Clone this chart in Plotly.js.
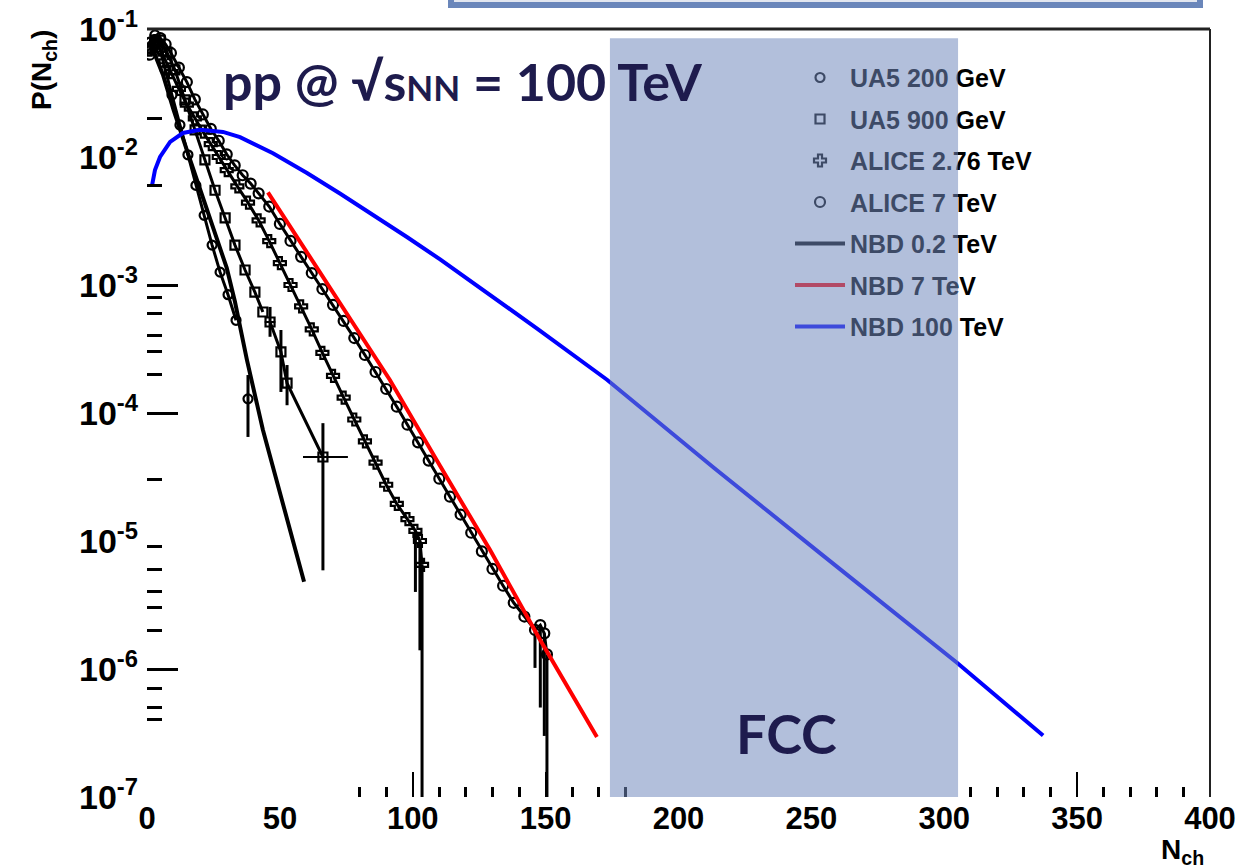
<!DOCTYPE html>
<html><head><meta charset="utf-8">
<script src="https://cdn.plot.ly/plotly-3.0.1.min.js"></script>
<style>html,body{margin:0;padding:0;background:#fff}#chart{width:1255px;height:868px}</style>
</head><body><div id="chart"></div>
<script>
// ---- data (null = break between the dense band and the isolated points) ----
const ua5_200_n = [1.1, 3.0, 4.9, 6.8, 9.4, 12.4, 15.4, 18.4, 21.5, 24.5, 27.5, 30.5, 33.5, null, 38.0];
const ua5_200_p = [0.079, 0.090, 0.069, 0.048, 0.0305, 0.0178, 0.0104, 6.0e-3, 3.5e-3, 2.05e-3, 1.26e-3, 8.4e-4, 5.3e-4, null, 1.29e-4];
const ua5_200_eup = [0,0,0,0,0,0,0,0,0,0,0,0,0,0, 6.9e-5];
const ua5_200_edn = [0,0,0,0,0,0,0,0,0,0,0,0,0,0, 6.4e-5];

const ua5_900_n = [1.1, 3.0, 4.9, 7.5, 10.5, 14.3, 18.1, 21.8, 25.6, 29.4, 33.1, 36.9, 40.6, 43.6, null, 46.3, 50.4, 52.7, 66.2];
const ua5_900_p = [0.071, 0.082, 0.082, 0.066, 0.048, 0.0279, 0.0163, 9.5e-3, 5.5e-3, 3.34e-3, 2.05e-3, 1.31e-3, 8.8e-4, 6.15e-4, null, 5.14e-4, 3.0e-4, 1.71e-4, 4.53e-5];
const ua5_900_eup = [0,0,0,0,0,0,0,0,0,0,0,0,0,0,0, 1.6e-4, 1.45e-4, 6.6e-5, 3.8e-5];
const ua5_900_edn = [0,0,0,0,0,0,0,0,0,0,0,0,0,0,0, 1.2e-4, 1.54e-4, 5.6e-5, 3.94e-5];
const ua5_900_exp = [0,0,0,0,0,0,0,0,0,0,0,0,0,0,0, 2.0, 0, 0, 9.4];
const ua5_900_exm = [0,0,0,0,0,0,0,0,0,0,0,0,0,0,0, 2.0, 0, 0, 7.5];

const alice276_n = [1, 3, 5, 7, 9, 12, 15, 18, 21, 24, 27, 30, 34, 38, 42, 46, 50, 54, 58, 62, 66, 70, 74, 78, 82, 86, 90, 94, 98, 101, 102.7, 103.5];
const alice276_p = [0.069, 0.076, 0.069, 0.056, 0.046, 0.034, 0.0257, 0.020, 0.0158, 0.0126, 0.010, 7.9e-3, 5.9e-3, 4.4e-3, 3.2e-3, 2.2e-3, 1.48e-3, 1.0e-3, 6.8e-4, 4.5e-4, 2.95e-4, 1.95e-4, 1.32e-4, 8.9e-5, 6.0e-5, 4.1e-5, 2.75e-5, 1.95e-5, 1.48e-5, 1.2e-5, 1.0e-5, 6.5e-6];
const alice276_edn = [0,0,0,0,0,0,0,0,0,0,0,0,0,0,0,0,0,0,0,0,0,0,0,0,0,0,0,0,0, 8.0e-6, 8.6e-6, 6.49e-6];

const alice7_n = [1, 3, 5, 7, 9, 12, 15, 18, 21, 24, 27, 30, 33, 36, 39, 42, 46, 50, 54, 58, 62, 66, 70, 74, 78, 82, 86, 90, 94, 98, 102, 106, 110, 114, 118, 122, 126, 130, 134, 138, 142, 146, 148, 149.5, 150.5];
const alice7_p = [0.063, 0.082, 0.085, 0.076, 0.065, 0.050, 0.0385, 0.0282, 0.0215, 0.0166, 0.0134, 0.0105, 8.6e-3, 7.2e-3, 6.2e-3, 5.2e-3, 4.1e-3, 3.0e-3, 2.21e-3, 1.66e-3, 1.24e-3, 9.3e-4, 7.0e-4, 5.24e-4, 3.85e-4, 2.84e-4, 2.09e-4, 1.54e-4, 1.12e-4, 8.1e-5, 5.9e-5, 4.25e-5, 3.07e-5, 2.22e-5, 1.61e-5, 1.16e-5, 8.3e-6, 6.05e-6, 4.47e-6, 3.29e-6, 2.57e-6, 2.02e-6, 2.2e-6, 1.9e-6, 1.3e-6];
const alice7_edn = [0,0,0,0,0,0,0,0,0,0,0,0,0,0,0,0,0,0,0,0,0,0,0,0,0,0,0,0,0,0,0,0,0,0,0,0,0,0,0,0,0, 1.0e-6, 1.7e-6, 1.6e-6, 1.29e-6];

const nbd02_n = [1, 3, 6, 10, 15, 20, 25, 30, 33.1, 37.6, 43.6, 50.0, 57.6, 59.1];
const nbd02_p = [0.066, 0.063, 0.044, 0.0233, 0.0113, 5.5e-3, 2.79e-3, 1.36e-3, 7.4e-4, 2.6e-4, 7.4e-5, 2.42e-5, 6.5e-6, 4.8e-6];

const nbd7_n = [45.5, 72.6, 91.4, 110.3, 129.1, 147.9, 169.3];
const nbd7_p = [5.3e-3, 7.2e-4, 1.81e-4, 3.85e-5, 8.5e-6, 1.69e-6, 2.94e-7];

const nbd100_n = [1.9, 3.0, 4.9, 8.7, 13.5, 19.9, 28.6, 35.0, 47.4, 60.2, 72.6, 85.0, 97.8, 110.3, 122.7, 135.5, 146.8, 173.1, 213.4, 253.6, 294.3, 304.8, 337.2];
const nbd100_p = [6.0e-3, 7.9e-3, 1.0e-2, 1.31e-2, 1.54e-2, 1.63e-2, 1.57e-2, 1.43e-2, 1.07e-2, 7.5e-3, 5.19e-3, 3.55e-3, 2.37e-3, 1.585e-3, 1.04e-3, 6.76e-4, 4.57e-4, 1.82e-4, 3.72e-5, 7.94e-6, 1.70e-6, 1.12e-6, 3.02e-7];

const xTickVals = [0, 50, 100, 150, 200, 250, 300, 350, 400];
const yTickVals = [1e-7, 1e-6, 1e-5, 1e-4, 1e-3, 1e-2, 1e-1];
const yTickText = ['10<sup>-7</sup>','10<sup>-6</sup>','10<sup>-5</sup>','10<sup>-4</sup>','10<sup>-3</sup>','10<sup>-2</sup>','10<sup>-1</sup>'];
const xMajorMarks = [100, 150, 350];
const xMinorMarks = [80, 90, 110, 120, 130, 140, 160, 170, 180, 310, 320, 330, 340, 360, 370, 380, 390];
const yMajorMarks = [1e-3, 1e-4, 1e-6];
const yMinorMarks = [2e-2, 6e-3, 8e-4, 6e-4, 4e-4, 3e-4, 2e-4, 3e-5, 9e-6, 6e-6, 4e-6, 3e-6, 2e-6, 7e-7, 5e-7, 4e-7];
const fccRange = [174.2, 305.2];

const FONT = 'Liberation Sans, Arial, Helvetica, sans-serif';
const NAVY = '#1e1b4d';

function dataTraces(name, n, p, sym, size, eup, edn, exp, exm, grp) {
  const pts = {
    name: name, x: n, y: p, type: 'scatter', mode: 'markers', legendgroup: grp,
    marker: {symbol: sym, size: size, color: '#000', line: {width: 2.2, color: '#000'}}
  };
  if (eup || edn) pts.error_y = {type: 'data', symmetric: false, array: eup || edn.map(() => 0), arrayminus: edn, color: '#000', thickness: 3, width: 0};
  if (exp) pts.error_x = {type: 'data', symmetric: false, array: exp, arrayminus: exm, color: '#000', thickness: 2, width: 0};
  // the dense bins of the measurement merge into a continuous band in the original
  const band = {x: n, y: p, type: 'scatter', mode: 'lines', line: {color: '#000', width: 3}, showlegend: false,
                legendgroup: grp, connectgaps: false, hoverinfo: 'skip'};
  return [band, pts];
}

const traces = [].concat(
  dataTraces('UA5 200 GeV', ua5_200_n, ua5_200_p, 'circle-open', 9, ua5_200_eup, ua5_200_edn, null, null, 'g1'),
  dataTraces('UA5 900 GeV', ua5_900_n, ua5_900_p, 'square-open', 9, ua5_900_eup, ua5_900_edn, ua5_900_exp, ua5_900_exm, 'g2'),
  dataTraces('ALICE 2.76 TeV', alice276_n, alice276_p, 'cross-open', 10, null, alice276_edn, null, null, 'g3'),
  dataTraces('ALICE 7 TeV', alice7_n, alice7_p, 'circle-open', 10, null, alice7_edn, null, null, 'g4'),
  [
    {name: 'NBD 0.2 TeV', x: nbd02_n, y: nbd02_p, type: 'scatter', mode: 'lines', line: {color: '#000', width: 4}, legendgroup: 'g5'},
    {name: 'NBD 7 TeV', x: nbd7_n, y: nbd7_p, type: 'scatter', mode: 'lines', line: {color: '#ff0000', width: 4}, legendgroup: 'g6'},
    {name: 'NBD 100 TeV', x: nbd100_n, y: nbd100_p, type: 'scatter', mode: 'lines', line: {color: '#0000ff', width: 4}, legendgroup: 'g7'},
    {x: [], y: [], xaxis: 'x2', yaxis: 'y2', type: 'scatter', mode: 'markers', showlegend: false, hoverinfo: 'skip'}
  ]
);

const layout = {
  width: 1255, height: 868,
  margin: {l: 147, r: 45, t: 29, b: 71, pad: 0},
  paper_bgcolor: '#fff', plot_bgcolor: 'rgba(0,0,0,0)',
  font: {family: FONT, color: '#000'},
  showlegend: true,
  legend: {x: 0.6049, y: 0.9665, xanchor: 'left', yanchor: 'top', bgcolor: 'rgba(0,0,0,0)', borderwidth: 0,
           font: {family: FONT, size: 25, weight: 700, color: '#000'}, traceorder: 'grouped', tracegroupgap: 6, itemwidth: 50},
  xaxis: {range: [0, 400], tickmode: 'array', tickvals: xTickVals, ticktext: xTickVals.map(String), ticks: '', showline: false,
          showgrid: false, zeroline: false, tickfont: {family: FONT, size: 31, weight: 700, color: '#000'}},
  yaxis: {type: 'log', range: [-7, -1], tickmode: 'array', tickvals: yTickVals, ticktext: yTickText, ticks: '', showline: false,
          showgrid: false, zeroline: false, ticklabelstandoff: 8, tickfont: {family: FONT, size: 34, weight: 700, color: '#000'}},
  xaxis2: {overlaying: 'x', anchor: 'y2', range: [0, 400], showticklabels: false, showgrid: false, zeroline: false, showline: false,
           tickmode: 'array', tickvals: xMajorMarks, ticks: 'inside', ticklen: 25, tickwidth: 2, tickcolor: '#000',
           minor: {tickmode: 'array', tickvals: xMinorMarks, ticks: 'inside', ticklen: 10, tickwidth: 3, tickcolor: '#000', showgrid: false}},
  yaxis2: {overlaying: 'y', anchor: 'x2', type: 'log', range: [-7, -1], showticklabels: false, showgrid: false, zeroline: false, showline: false,
           tickmode: 'array', tickvals: yMajorMarks, ticks: 'inside', ticklen: 31, tickwidth: 3, tickcolor: '#000',
           minor: {tickmode: 'array', tickvals: yMinorMarks, ticks: 'inside', ticklen: 15, tickwidth: 3, tickcolor: '#000', showgrid: false}},
  shapes: [
    {type: 'line', xref: 'paper', yref: 'paper', x0: 0, x1: 1, y0: 1, y1: 1, line: {color: '#222', width: 3}},
    {type: 'line', xref: 'paper', yref: 'paper', x0: 1, x1: 1, y0: 0, y1: 1, line: {color: '#222', width: 2}},
    {type: 'rect', xref: 'x', yref: 'paper', x0: fccRange[0], x1: fccRange[1], y0: 0, y1: 0.988,
     fillcolor: 'rgba(113,137,189,0.54)', line: {width: 0}, layer: 'above'},
    {type: 'rect', xref: 'paper', yref: 'paper', x0: 0.286, x1: 0.9906, y0: 1.03125, y1: 1.09,
     fillcolor: '#e2e6ef', line: {color: '#6a86ba', width: 6}, layer: 'above'}
  ],
  annotations: [
    {xref: 'paper', yref: 'paper', x: 0.0700, y: 0.9320, xanchor: 'left', yanchor: 'middle', showarrow: false,
     text: 'pp @ √s<span style="font-size:35px">NN</span> = 100 TeV', font: {family: 'Lato, Noto Sans, sans-serif', size: 52, weight: 700, color: NAVY}},
    {xref: 'paper', yref: 'paper', x: 0.602, y: 0.0833, xanchor: 'center', yanchor: 'middle', showarrow: false,
     text: 'FCC', font: {family: 'Lato, Noto Sans, sans-serif', size: 54, weight: 700, color: NAVY}},
    {xref: 'paper', yref: 'paper', x: -0.0978, y: 0.9466, xanchor: 'center', yanchor: 'middle', showarrow: false, textangle: -90,
     text: 'P(N<sub>ch</sub>)', font: {family: FONT, size: 28, weight: 700, color: '#000'}},
    {xref: 'paper', yref: 'paper', x: 0.9746, y: -0.0716, xanchor: 'center', yanchor: 'middle', showarrow: false,
     text: 'N<sub>ch</sub>', font: {family: FONT, size: 28, weight: 700, color: '#000'}}
  ]
};

function sinkLegend(gd) {
  // in the original the FCC band is painted over the legend: put the legend just under the upper shape layer
  var legend = gd.querySelector('g.infolayer g.legend') || gd.querySelector('g.legend');
  var above = gd.querySelector('g.layer-above');
  if (!legend || !above || !above.parentNode) return;
  if (legend.nextSibling === above) return;
  above.parentNode.insertBefore(legend, above);
}

Plotly.newPlot('chart', traces, layout, {staticPlot: true, displayModeBar: false}).then(function (gd) {
  sinkLegend(gd);
  setTimeout(function () { sinkLegend(gd); }, 30);
});
</script>
</body></html>
